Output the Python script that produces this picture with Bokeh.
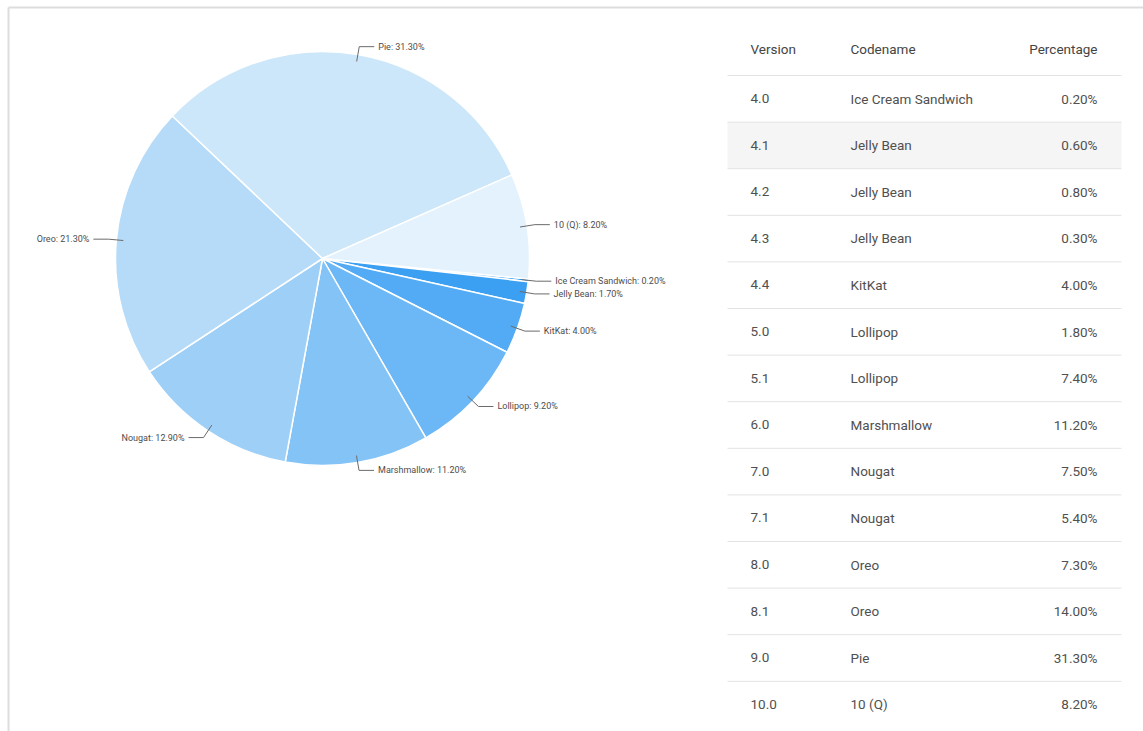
import math
from bokeh.plotting import figure
from bokeh.models import Range1d, ColumnDataSource
from bokeh.core.properties import value
from bokeh.embed import file_html
from bokeh.resources import INLINE

# ---------------- data ----------------
pie_names = ["Ice Cream Sandwich", "Jelly Bean", "KitKat", "Lollipop",
             "Marshmallow", "Nougat", "Oreo", "Pie", "10 (Q)"]
pie_shares = [0.2, 1.7, 4.0, 9.2, 11.2, 12.9, 21.3, 31.3, 8.2]
pie_colors = ["#2196f3", "#3ba0f2", "#52abf4", "#6cb7f5", "#84c3f6",
              "#9dcff7", "#b5dbf8", "#cde7fa", "#e3f2fd"]

table_header = ["Version", "Codename", "Percentage"]
versions = ["4.0", "4.1", "4.2", "4.3", "4.4", "5.0", "5.1", "6.0",
            "7.0", "7.1", "8.0", "8.1", "9.0", "10.0"]
codenames = ["Ice Cream Sandwich", "Jelly Bean", "Jelly Bean", "Jelly Bean",
             "KitKat", "Lollipop", "Lollipop", "Marshmallow", "Nougat",
             "Nougat", "Oreo", "Oreo", "Pie", "10 (Q)"]
percentages = [0.20, 0.60, 0.80, 0.30, 4.00, 1.80, 7.40, 11.20, 7.50,
               5.40, 7.30, 14.00, 31.30, 8.20]
highlight_row = 1

# ---------------- layout ----------------
W, H = 1143, 731
FONT = "Roboto"


def Y(py):
    return H - py


p = figure(width=W, height=H, output_backend="svg", toolbar_location=None,
           x_range=Range1d(0, W), y_range=Range1d(0, H), min_border=0,
           background_fill_color="white", border_fill_color="white")
p.axis.visible = False
p.grid.visible = False
p.outline_line_color = None

# card border (top and left)
p.segment(x0=[8, 8], y0=[Y(7), Y(7)], x1=[W, 8], y1=[Y(7), 0],
          line_color="#dddddd", line_width=2)

# ---------------- pie ----------------
cx, cy, R = 322, Y(258), 207
start_deg = -5.7
total = sum(pie_shares)
starts, ends, mids = [], [], []
cum = 0.0
for v in pie_shares:
    a0 = math.radians(start_deg - 360.0 * cum / total)
    a1 = math.radians(start_deg - 360.0 * (cum + v) / total)
    starts.append(a1)
    ends.append(a0)
    mids.append((a0 + a1) / 2)
    cum += v

src = ColumnDataSource(dict(x=[cx] * len(pie_shares), y=[cy] * len(pie_shares),
                            s=starts, e=ends, c=pie_colors))
p.wedge(x="x", y="y", radius=R, start_angle="s", end_angle="e",
        direction="anticlock", fill_color="c", line_color="white",
        line_width=1.5, source=src)

# labels with leader lines
lx, ly, tx, ty, tt, ta = [], [], [], [], [], []
for name, v, m in zip(pie_names, pie_shares, mids):
    c, s = math.cos(m), math.sin(m)
    x0, y0 = cx + (R - 7) * c, cy + (R - 7) * s
    x1, y1 = cx + (R + 8) * c, cy + (R + 8) * s
    side = 1 if c >= 0 else -1
    x2 = x1 + side * 15
    lx.append([x0, x1, x2])
    ly.append([y0, y1, y1])
    tx.append(x2 + side * 4)
    ty.append(y1)
    tt.append(f"{name}: {v:.2f}%")
    ta.append("left" if side > 0 else "right")

p.multi_line(xs=lx, ys=ly, line_color="#6b6b6b", line_width=1)
p.text(x=tx, y=ty, text=tt, text_align=ta, text_baseline="middle",
       text_font=value(FONT), text_font_size="9px", text_color="#4d4d4d")

# ---------------- table ----------------
x_left, x_right = 727, 1121
col_version, col_code, col_pct = 750, 850, 1097
header_y = 48
row0_y = 98
step = 46.6

# highlighted row background
hy = row0_y + highlight_row * step
p.quad(left=[x_left], right=[x_right], top=[Y(hy - step / 2 + 0.5)],
       bottom=[Y(hy + step / 2 - 0.5)], fill_color="#f5f5f5", line_color=None)

# separators
sep_y = [Y(header_y + 27 + k * step) for k in range(len(versions))]
p.segment(x0=[x_left] * len(sep_y), y0=sep_y, x1=[x_right] * len(sep_y),
          y1=sep_y, line_color="#e3e3e3", line_width=1)

# header
p.text(x=[col_version, col_code], y=[Y(header_y)] * 2,
       text=table_header[:2], text_align="left", text_baseline="middle",
       text_font=value(FONT), text_font_size="13.5px", text_color="#444444")
p.text(x=[col_pct], y=[Y(header_y)], text=[table_header[2]],
       text_align="right", text_baseline="middle",
       text_font=value(FONT), text_font_size="13.5px", text_color="#444444")

row_y = [Y(row0_y + i * step) for i in range(len(versions))]
p.text(x=[col_version] * len(versions), y=row_y, text=versions,
       text_align="left", text_baseline="middle", text_font=value(FONT),
       text_font_size="13.5px", text_color="#505050")
p.text(x=[col_code] * len(codenames), y=row_y, text=codenames,
       text_align="left", text_baseline="middle", text_font=value(FONT),
       text_font_size="13.5px", text_color="#505050")
p.text(x=[col_pct] * len(percentages), y=row_y,
       text=[f"{v:.2f}%" for v in percentages],
       text_align="right", text_baseline="middle", text_font=value(FONT),
       text_font_size="13.5px", text_color="#505050")

open("out.html", "w").write(file_html(p, INLINE))
